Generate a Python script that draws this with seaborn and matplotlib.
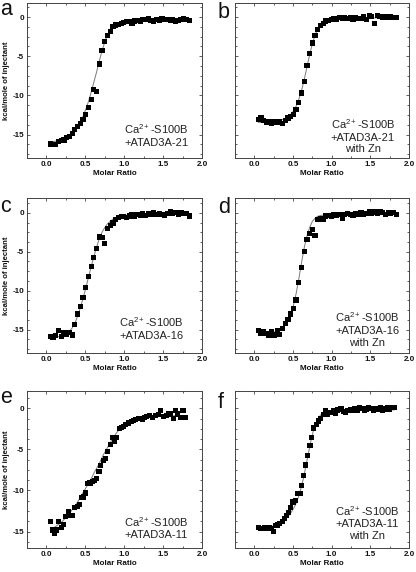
import matplotlib
matplotlib.use("Agg")
import matplotlib.pyplot as plt
import seaborn as sns
from matplotlib.ticker import MultipleLocator, AutoMinorLocator, FormatStrFormatter

# ---------------- data ----------------
grid_x = [0.05, 0.085, 0.12, 0.155, 0.19, 0.225, 0.26, 0.295, 0.33, 0.365,
          0.40, 0.435, 0.47, 0.505, 0.54, 0.575, 0.61, 0.645, 0.68, 0.715,
          0.75, 0.785, 0.82, 0.855, 0.89, 0.925, 0.96, 0.995, 1.03, 1.065,
          1.10, 1.135, 1.17, 1.205, 1.24, 1.275, 1.31, 1.345, 1.38, 1.415,
          1.45, 1.485, 1.52, 1.555, 1.59, 1.625, 1.66, 1.695, 1.73, 1.765,
          1.80, 1.835]

a_y = [-16.2, -16.3, -16.3, -15.9, -15.8, -15.7, -15.4, -15.3, -14.9, -14.4,
       -14.0, -13.6, -13.1, -12.4, -11.6, -10.5, -9.2, -9.5, -6.0, -4.3,
       -3.1, -2.4, -1.8, -1.2, -1.0, -0.9, -0.8, -0.7, -0.6, -0.6,
       -0.8, -0.5, -0.4, -0.6, -0.3, -0.3, -0.2, -0.4, -0.5, -0.3,
       -0.4, -0.2, -0.3, -0.3, -0.4, -0.3, -0.5, -0.4, -0.3, -0.2,
       -0.3, -0.4]
a_fit = [-15.9, -15.9, -15.85, -15.8, -15.75, -15.6, -15.45, -15.2, -14.9, -14.5,
         -14.0, -13.4, -12.7, -11.8, -10.8, -9.6, -8.3, -7.0, -5.6, -4.3,
         -3.2, -2.3, -1.7, -1.2, -0.95, -0.8, -0.7, -0.6, -0.55, -0.5,
         -0.48, -0.46, -0.45, -0.44, -0.43, -0.42, -0.41, -0.4, -0.4, -0.39,
         -0.39, -0.38, -0.38, -0.38, -0.37, -0.37, -0.37, -0.37, -0.36, -0.36,
         -0.36, -0.36]

b_y = [-13.1, -12.8, -13.2, -13.5, -13.3, -13.6, -13.4, -13.5, -13.4, -13.6,
       -13.2, -12.9, -12.7, -12.4, -11.8, -10.9, -9.7, -8.2, -6.2, -4.6,
       -3.3, -2.4, -1.6, -1.1, -0.8, -0.5, -0.4, -0.3, -0.2, -0.3,
       -0.1, -0.2, -0.1, -0.2, -0.1, -0.3, -0.1, -0.2, -0.2, 0.0,
       -0.3, 0.2, 0.1, -0.8, 0.2, 0.1, 0.0, 0.0, -0.1, 0.0,
       -0.1, -0.1]
b_fit = [-13.45, -13.45, -13.45, -13.45, -13.4, -13.4, -13.35, -13.3, -13.2, -13.1,
         -12.95, -12.75, -12.45, -12.0, -11.4, -10.5, -9.4, -8.0, -6.4, -4.8,
         -3.4, -2.3, -1.5, -1.0, -0.7, -0.5, -0.4, -0.3, -0.25, -0.2,
         -0.2, -0.18, -0.16, -0.15, -0.14, -0.13, -0.12, -0.12, -0.11, -0.11,
         -0.1, -0.1, -0.1, -0.1, -0.1, -0.1, -0.1, -0.1, -0.1, -0.1,
         -0.1, -0.1]

c_y = [-15.9, -16.0, -15.8, -15.1, -15.9, -15.4, -15.6, -15.4, -15.7, -14.3,
       -13.0, -12.0, -10.9, -9.6, -8.2, -6.9, -5.7, -4.6, -3.1, -3.2,
       -3.9, -2.0, -1.6, -1.3, -0.9, -0.6, -0.5, -0.5, -0.6, -0.4,
       -0.2, -0.4, -0.2, -0.3, -0.1, -0.3, -0.1, -0.2, 0.0, -0.2,
       -0.1, -0.2, -0.3, -0.1, 0.1, -0.1, 0.0, -0.2, 0.0, -0.1,
       -0.1, -0.4]
c_fit = [-16.2, -16.1, -16.0, -15.9, -15.8, -15.65, -15.45, -15.2, -14.8, -14.2,
         -13.3, -12.2, -11.0, -9.7, -8.3, -6.9, -5.6, -4.4, -3.3, -2.5,
         -1.9, -1.4, -1.1, -0.8, -0.65, -0.5, -0.4, -0.35, -0.3, -0.28,
         -0.26, -0.25, -0.24, -0.23, -0.22, -0.21, -0.2, -0.2, -0.19, -0.19,
         -0.18, -0.18, -0.18, -0.18, -0.18, -0.18, -0.18, -0.18, -0.18, -0.18,
         -0.18, -0.18]

d_y = [-15.1, -15.5, -15.3, -15.5, -15.7, -15.2, -15.7, -15.1, -15.6, -14.9,
       -14.2, -13.7, -13.0, -12.3, -11.2, -9.0, -7.0, -5.0, -3.4, -2.7,
       -2.1, -2.9, -0.9, -0.8, -0.8, -0.4, -0.3, -0.4, -0.2, -0.3,
       -0.2, -0.7, -0.2, -0.1, -0.2, -0.3, -0.1, -0.2, 0.0, -0.2,
       -0.1, 0.1, -0.1, 0.1, -0.1, 0.1, 0.0, -0.2, 0.0, -0.1,
       0.0, -0.2]
d_fit = [-15.5, -15.5, -15.45, -15.45, -15.4, -15.35, -15.3, -15.2, -15.0, -14.7,
         -14.3, -13.8, -13.0, -11.9, -10.4, -8.5, -6.4, -4.5, -3.0, -1.9,
         -1.1, -0.7, -0.45, -0.35, -0.3, -0.27, -0.25, -0.23, -0.22, -0.21,
         -0.2, -0.2, -0.2, -0.2, -0.2, -0.2, -0.2, -0.2, -0.2, -0.2,
         -0.2, -0.2, -0.2, -0.2, -0.2, -0.2, -0.2, -0.2, -0.2, -0.2,
         -0.2, -0.2]

e_x = [0.05, 0.08, 0.10, 0.13, 0.16, 0.19, 0.22, 0.25, 0.28, 0.31,
       0.335, 0.365, 0.395, 0.42, 0.45, 0.475, 0.50, 0.53, 0.56, 0.59,
       0.615, 0.645, 0.675, 0.70, 0.73, 0.76, 0.79, 0.82, 0.85, 0.87,
       0.90, 0.935, 0.96, 0.99, 1.02, 1.05, 1.09, 1.12, 1.15, 1.18,
       1.23, 1.26, 1.29, 1.32, 1.36, 1.40, 1.44, 1.47, 1.51, 1.54,
       1.57, 1.60, 1.63, 1.66, 1.69, 1.72, 1.755, 1.785]
e_y = [-13.8, -14.8, -15.2, -14.8, -13.8, -14.5, -14.1, -13.2, -12.6, -13.0,
       -13.0, -12.1, -12.0, -11.7, -10.9, -10.8, -10.3, -9.2, -9.1, -8.9,
       -8.8, -8.5, -7.7, -7.0, -6.4, -6.1, -5.3, -4.4, -3.6, -4.0,
       -3.6, -2.5, -2.3, -2.2, -2.0, -1.8, -1.6, -1.5, -1.4, -1.2,
       -1.3, -1.1, -1.0, -0.9, -1.1, -0.9, -0.8, -0.3, -1.0, -0.9,
       -0.7, -0.7, -1.2, -0.3, -0.7, -1.1, -0.3, -1.1]
e_fit = [-14.7, -14.6, -14.5, -14.3, -14.1, -13.9, -13.6, -13.3, -13.0, -12.6,
         -12.3, -11.9, -11.5, -11.1, -10.6, -10.2, -9.8, -9.3, -8.8, -8.3,
         -7.8, -7.3, -6.8, -6.3, -5.7, -5.2, -4.7, -4.2, -3.7, -3.4,
         -3.0, -2.6, -2.35, -2.1, -1.9, -1.75, -1.6, -1.5, -1.4, -1.33,
         -1.25, -1.2, -1.15, -1.1, -1.06, -1.02, -1.0, -0.98, -0.96, -0.95,
         -0.94, -0.93, -0.92, -0.91, -0.9, -0.9, -0.89, -0.89]

f_x = [0.05, 0.075, 0.105, 0.135, 0.16, 0.19, 0.22, 0.25, 0.27, 0.30,
       0.33, 0.36, 0.385, 0.415, 0.44, 0.47, 0.50, 0.53, 0.56, 0.59,
       0.61, 0.635, 0.665, 0.69, 0.72, 0.74, 0.77, 0.80, 0.83, 0.86,
       0.89, 0.92, 0.95, 0.99, 1.02, 1.05, 1.08, 1.12, 1.15, 1.18,
       1.21, 1.24, 1.27, 1.30, 1.33, 1.36, 1.39, 1.42, 1.45, 1.48,
       1.51, 1.54, 1.57, 1.60, 1.63, 1.66, 1.69, 1.72, 1.75, 1.78,
       1.81]
f_y = [-14.5, -14.6, -14.6, -14.5, -14.6, -14.5, -14.6, -15.0, -14.3, -14.2,
       -14.0, -13.8, -13.4, -13.0, -12.7, -12.1, -11.4, -11.2, -10.4, -10.4,
       -9.4, -8.2, -6.9, -5.7, -4.5, -3.6, -2.4, -2.0, -1.55, -1.2,
       -0.8, -0.3, -0.7, -0.5, -0.3, -0.6, -0.2, -0.1, -0.4, -0.5,
       -0.3, -0.2, -0.2, 0.0, -0.2, 0.1, 0.0, -0.2, -0.1, 0.1,
       0.0, -0.3, 0.0, -0.1, 0.1, -0.2, -0.1, 0.1, -0.1, 0.1,
       0.1]
f_fit = [-14.65, -14.6, -14.6, -14.55, -14.5, -14.45, -14.4, -14.3, -14.2, -14.1,
         -13.95, -13.8, -13.6, -13.35, -13.1, -12.75, -12.3, -11.8, -11.1, -10.2,
         -9.5, -8.5, -7.1, -5.9, -4.5, -3.6, -2.5, -1.7, -1.15, -0.8,
         -0.6, -0.45, -0.38, -0.32, -0.3, -0.28, -0.27, -0.26, -0.25, -0.24,
         -0.23, -0.23, -0.22, -0.22, -0.22, -0.21, -0.21, -0.21, -0.21, -0.2,
         -0.2, -0.2, -0.2, -0.2, -0.2, -0.2, -0.2, -0.2, -0.2, -0.2,
         -0.2]

letters = ["a", "b", "c", "d", "e", "f"]
labels = ["Ca$^{2+}$-S100B\n+ATAD3A-21",
          "Ca$^{2+}$-S100B\n+ATAD3A-21\nwith Zn",
          "Ca$^{2+}$-S100B\n+ATAD3A-16",
          "Ca$^{2+}$-S100B\n+ATAD3A-16\nwith Zn",
          "Ca$^{2+}$-S100B\n+ATAD3A-11",
          "Ca$^{2+}$-S100B\n+ATAD3A-11\nwith Zn"]
xs_all = [grid_x, grid_x, grid_x, grid_x, e_x, f_x]
ys_all = [a_y, b_y, c_y, d_y, e_y, f_y]
fits_all = [a_fit, b_fit, c_fit, d_fit, e_fit, f_fit]
x_ticks = [0.0, 0.5, 1.0, 1.5, 2.0]
y_ticks = [0, -5, -10, -15]
x_label = "Molar Ratio"
y_label = "kcal/mole of injectant"

# ---------------- style ----------------
sns.set_theme(style="ticks")
plt.rcParams["font.family"] = ["Liberation Sans", "DejaVu Sans"]
plt.rcParams["mathtext.fontset"] = "custom"
plt.rcParams["mathtext.rm"] = "Liberation Sans"
plt.rcParams["mathtext.it"] = "Liberation Sans:italic"
plt.rcParams["mathtext.bf"] = "Liberation Sans:bold"
plt.rcParams["axes.unicode_minus"] = False

W, H = 416, 572
fig = plt.figure(figsize=(W / 100, H / 100), dpi=100)
fig.patch.set_facecolor("white")

col_left = [27, 235]
col_right = [202, 409]
row_top = [3, 198, 391]
row_bot = [158, 353, 548]
ylims = [(-18, 1.8), (-18, 1.8), (-18, 1.9), (-18, 1.9), (-17, 2.1), (-17, 2.1)]
txt_pos = [(0.74, 0.065), (0.735, 0.025), (0.71, 0.08), (0.76, 0.035), (0.737, 0.05), (0.76, 0.045)]
letter_pos = [(0, 15), (218, 18), (0, 212), (218, 213), (0, 403), (218, 408)]

spine_col = "#444444"
for i in range(6):
    r, c = divmod(i, 2)
    x0 = col_left[c] / W
    w = (col_right[c] - col_left[c]) / W
    y0 = 1 - row_bot[r] / H
    h = (row_bot[r] - row_top[r]) / H
    ax = fig.add_axes([x0, y0, w, h])
    ax.set_facecolor("white")

    sns.lineplot(x=xs_all[i], y=fits_all[i], ax=ax, color="#7a7a7a", linewidth=0.7)
    sns.scatterplot(x=xs_all[i], y=ys_all[i], ax=ax, marker="s", s=14,
                    color="black", edgecolor="none", linewidth=0, zorder=3)

    ax.set_xlim(-0.25, 2.0)
    ax.set_ylim(*ylims[i])
    ax.set_xticks(x_ticks)
    ax.set_yticks(y_ticks)
    ax.xaxis.set_minor_locator(MultipleLocator(0.25))
    ax.yaxis.set_minor_locator(AutoMinorLocator(4))
    ax.xaxis.set_major_formatter(FormatStrFormatter("%.1f"))
    ax.yaxis.set_major_formatter(FormatStrFormatter("%d"))
    ax.tick_params(which="both", direction="in", top=True, right=True,
                   labelsize=5.8, pad=2, color=spine_col, width=0.6,
                   labelcolor="#111111")
    ax.tick_params(which="major", length=2.5)
    ax.tick_params(which="minor", length=1.5)
    for sp in ax.spines.values():
        sp.set_linewidth(0.7)
        sp.set_color(spine_col)

    ax.set_xlabel(x_label, fontsize=5.8, fontweight="bold", labelpad=1.5, color="#111111")
    if c == 0:
        ax.set_ylabel(y_label, fontsize=5.6, fontweight="bold", labelpad=2, color="#111111")
        plt.setp(ax.get_yticklabels(), fontweight="bold")
    else:
        ax.set_ylabel("")
        ax.set_yticklabels([])
    plt.setp(ax.get_xticklabels(), fontweight="bold")

    tx, ty = txt_pos[i]
    ax.text(tx, ty, labels[i], transform=ax.transAxes, ha="center", va="bottom",
            multialignment="center", fontsize=8, linespacing=1.2, color="#222222")

    lx, ly = letter_pos[i]
    fig.text(lx / W, 1 - ly / H, letters[i], fontsize=15.5, va="baseline",
             ha="left", color="#111111")

fig.savefig("out.png", dpi=100, facecolor="white")
